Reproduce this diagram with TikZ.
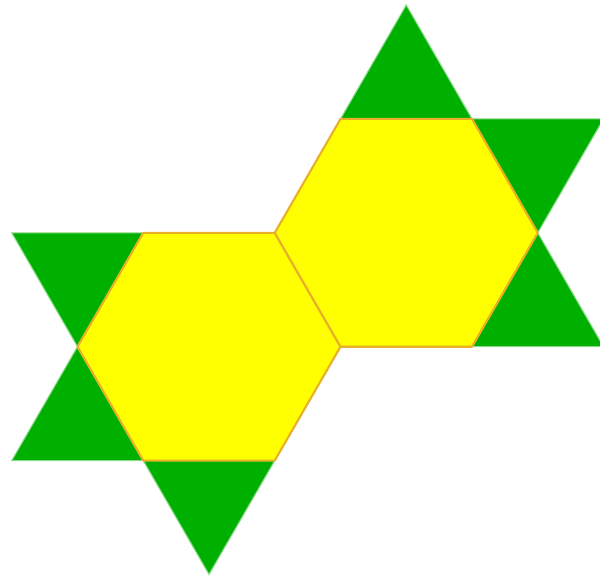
\documentclass[tikz,border=0pt]{standalone}
\usetikzlibrary{calc}
\definecolor{trigreen}{RGB}{0,176,0}
\definecolor{hexyellow}{RGB}{255,255,0}
\definecolor{hexedge}{RGB}{232,176,40}
\begin{document}
\begin{tikzpicture}[
    hexa/.style={fill=hexyellow, draw=hexedge, line width=0.6pt, line join=round},
    tri/.style={fill=trigreen, draw=trigreen!45!white, line width=0.3pt},
  ]
  \def\s{1.315}
  \def\r{2.2777}
  \useasboundingbox (0,0) rectangle (6,5.8);
  \coordinate (c1) at (2.09,2.333);
  \coordinate (c2) at ($(c1)+(30:\r)$);
  % green triangles on the outer edges
  \foreach \c/\n in {c1/150, c1/210, c1/270, c2/90, c2/30, c2/-30} {
    \draw[tri] ($(\c)+(\n-30:\s)$) -- ($(\c)+(\n:\r)$) -- ($(\c)+(\n+30:\s)$) -- cycle;
  }
  % the two hexagons
  \foreach \c in {c1,c2} {
    \draw[hexa] ($(\c)+(0:\s)$) \foreach \a in {60,120,...,300} {-- ($(\c)+(\a:\s)$)} -- cycle;
  }
\end{tikzpicture}
\end{document}
